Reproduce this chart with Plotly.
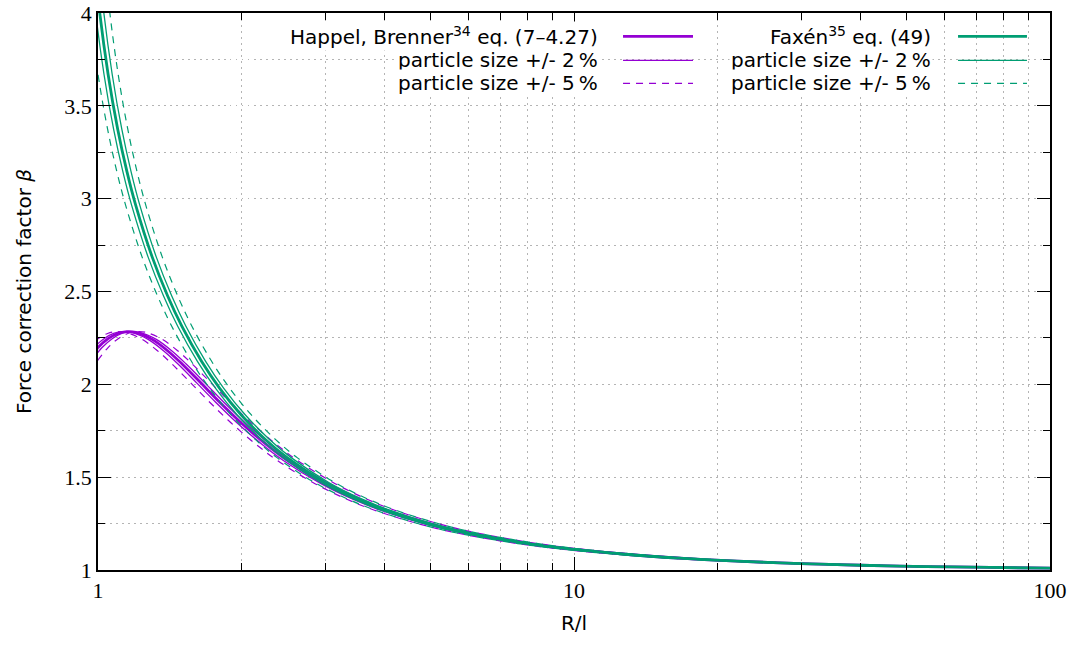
import plotly.graph_objects as go

# ---------------- data ----------------
# R/l sample positions for the nominal curves
R_L = [0.95, 1.0, 1.05, 1.1, 1.15, 1.2, 1.3, 1.4, 1.5, 1.65, 1.8, 2.0, 2.25, 2.5,
       3.0, 3.5, 4.0, 5.0, 6.0, 8.0, 10, 13, 17, 22, 30, 40, 55, 75, 105]
# same beta values seen at shifted positions (particle size +/- 2 %, +/- 5 %)
R_L_PLUS2 = [0.969, 1.02, 1.071, 1.122, 1.173, 1.224, 1.326, 1.428, 1.53, 1.683, 1.836,
             2.04, 2.295, 2.55, 3.06, 3.57, 4.08, 5.1, 6.12, 8.16, 10.2, 13.26, 17.34,
             22.44, 30.6, 40.8, 56.1, 76.5, 107.1]
R_L_MINUS2 = [0.9314, 0.9804, 1.0294, 1.0784, 1.1275, 1.1765, 1.2745, 1.3725, 1.4706,
              1.6176, 1.7647, 1.9608, 2.2059, 2.451, 2.9412, 3.4314, 3.9216, 4.902,
              5.8824, 7.8431, 9.8039, 12.745, 16.667, 21.569, 29.412, 39.216, 53.922,
              73.529, 102.94]
R_L_PLUS5 = [0.9975, 1.05, 1.1025, 1.155, 1.2075, 1.26, 1.365, 1.47, 1.575, 1.7325, 1.89,
             2.1, 2.3625, 2.625, 3.15, 3.675, 4.2, 5.25, 6.3, 8.4, 10.5, 13.65, 17.85,
             23.1, 31.5, 42, 57.75, 78.75, 110.25]
R_L_MINUS5 = [0.9048, 0.9524, 1.0, 1.0476, 1.0952, 1.1429, 1.2381, 1.3333, 1.4286,
              1.5714, 1.7143, 1.9048, 2.1429, 2.381, 2.8571, 3.3333, 3.8095, 4.7619,
              5.7143, 7.619, 9.5238, 12.381, 16.19, 20.952, 28.571, 38.095, 52.381,
              71.429, 100.0]

BETA_HAPPEL = [2.127, 2.198, 2.246, 2.274, 2.284, 2.280, 2.242, 2.181, 2.111, 2.004,
               1.905, 1.792, 1.679, 1.590, 1.465, 1.381, 1.322, 1.246, 1.198, 1.142,
               1.111, 1.0835, 1.0627, 1.0478, 1.0346, 1.0257, 1.0186, 1.0136, 1.0097]
BETA_FAXEN = [4.711, 4.082, 3.670, 3.374, 3.147, 2.965, 2.685, 2.477, 2.313, 2.124,
              1.980, 1.835, 1.702, 1.604, 1.470, 1.384, 1.324, 1.246, 1.198, 1.1425,
              1.111, 1.0835, 1.0627, 1.0478, 1.0346, 1.0257, 1.0186, 1.0136, 1.0097]

X_TICKS = [1, 10, 100]
X_TICK_LABELS = ["1", "10", "100"]
X_MINOR = [2, 3, 4, 5, 6, 7, 8, 9, 20, 30, 40, 50, 60, 70, 80, 90]
Y_TICKS = [1, 1.5, 2, 2.5, 3, 3.5, 4]
Y_TICK_LABELS = ["1", "1.5", "2", "2.5", "3", "3.5", "4"]
Y_MINOR = [1.25, 1.75, 2.25, 2.75, 3.25, 3.75]

HAPPEL_LABEL = "Happel, Brenner<sup>34</sup> eq. (7–4.27)"
FAXEN_LABEL = "Faxén<sup>35</sup> eq. (49)"
PM2_LABEL = "particle size +/- 2\u2009%"
PM5_LABEL = "particle size +/- 5\u2009%"

PURPLE = "#9400D3"
GREEN = "#009E73"

# ---------------- figure ----------------
fig = go.Figure()

def add_family(beta, color):
    fig.add_trace(go.Scatter(x=R_L, y=beta, mode="lines", line=dict(color=color, width=2.8, shape="spline"),
                             showlegend=False, hoverinfo="skip"))
    for xs in (R_L_PLUS2, R_L_MINUS2):
        fig.add_trace(go.Scatter(x=xs, y=beta, mode="lines", line=dict(color=color, width=1.3, shape="spline"),
                                 showlegend=False, hoverinfo="skip"))
    for xs in (R_L_PLUS5, R_L_MINUS5):
        fig.add_trace(go.Scatter(x=xs, y=beta, mode="lines",
                                 line=dict(color=color, width=1.2, shape="spline", dash="7px,6px"),
                                 showlegend=False, hoverinfo="skip"))

add_family(BETA_HAPPEL, PURPLE)
add_family(BETA_FAXEN, GREEN)

GRID = dict(showgrid=True, gridcolor="#b4b4b4", griddash="1.5px,4.5px", gridwidth=1)
TICKFONT = dict(family="Liberation Serif", size=22, color="black")
SANS = "DejaVu Sans"

fig.update_xaxes(
    type="log", range=[0, 2], tickmode="array", tickvals=X_TICKS, ticktext=X_TICK_LABELS,
    ticks="inside", ticklen=13, tickwidth=1, tickcolor="black",
    showline=True, linecolor="black", linewidth=1.5, mirror="ticks", zeroline=False,
    tickfont=TICKFONT, automargin=False, ticklabeloverflow="allow",
    minor=dict(tickmode="array", tickvals=X_MINOR, ticks="inside", ticklen=7, tickcolor="black", **GRID),
    title=dict(text="R/l", font=dict(family=SANS, size=20, color="black"), standoff=14),
    **GRID,
)
fig.update_yaxes(
    range=[1, 4], tickmode="array", tickvals=Y_TICKS, ticktext=Y_TICK_LABELS,
    ticks="inside", ticklen=13, tickwidth=1, tickcolor="black",
    showline=True, linecolor="black", linewidth=1.5, mirror="ticks", zeroline=False,
    tickfont=TICKFONT, automargin=False, ticklabeloverflow="allow",
    minor=dict(tickmode="array", tickvals=Y_MINOR, ticks="inside", ticklen=7, tickcolor="black", **GRID),
    title=dict(text="Force correction factor <i>β</i>", font=dict(family=SANS, size=20, color="black"), standoff=27),
    **GRID,
)

# ---------------- key (gnuplot-style: text right-aligned, sample to the right) ----------------
rows_y = [0.9582, 0.9150, 0.8735]
cols = [
    dict(text_x=0.5273, x0=0.5515, x1=0.625, color=PURPLE, labels=[HAPPEL_LABEL, PM2_LABEL, PM5_LABEL]),
    dict(text_x=0.8771, x0=0.9034, x1=0.9758, color=GREEN, labels=[FAXEN_LABEL, PM2_LABEL, PM5_LABEL]),
]
styles = [dict(width=2.8), dict(width=1.3), dict(width=1.2, dash="7px,6px")]
for c in cols:
    for ry, lab, st in zip(rows_y, c["labels"], styles):
        fig.add_annotation(x=c["text_x"], y=ry, xref="paper", yref="paper", text=lab,
                           showarrow=False, xanchor="right", yanchor="middle",
                           font=dict(family=SANS, size=20, color="black"), bgcolor="white")
        fig.add_shape(type="line", xref="paper", yref="paper", x0=c["x0"], x1=c["x1"], y0=ry, y1=ry,
                      line=dict(color=c["color"], **st))

fig.update_layout(
    width=1081, height=646,
    margin=dict(l=98, r=31, t=13, b=76),
    paper_bgcolor="white", plot_bgcolor="white",
    showlegend=False,
)

fig.write_html("out.html")
